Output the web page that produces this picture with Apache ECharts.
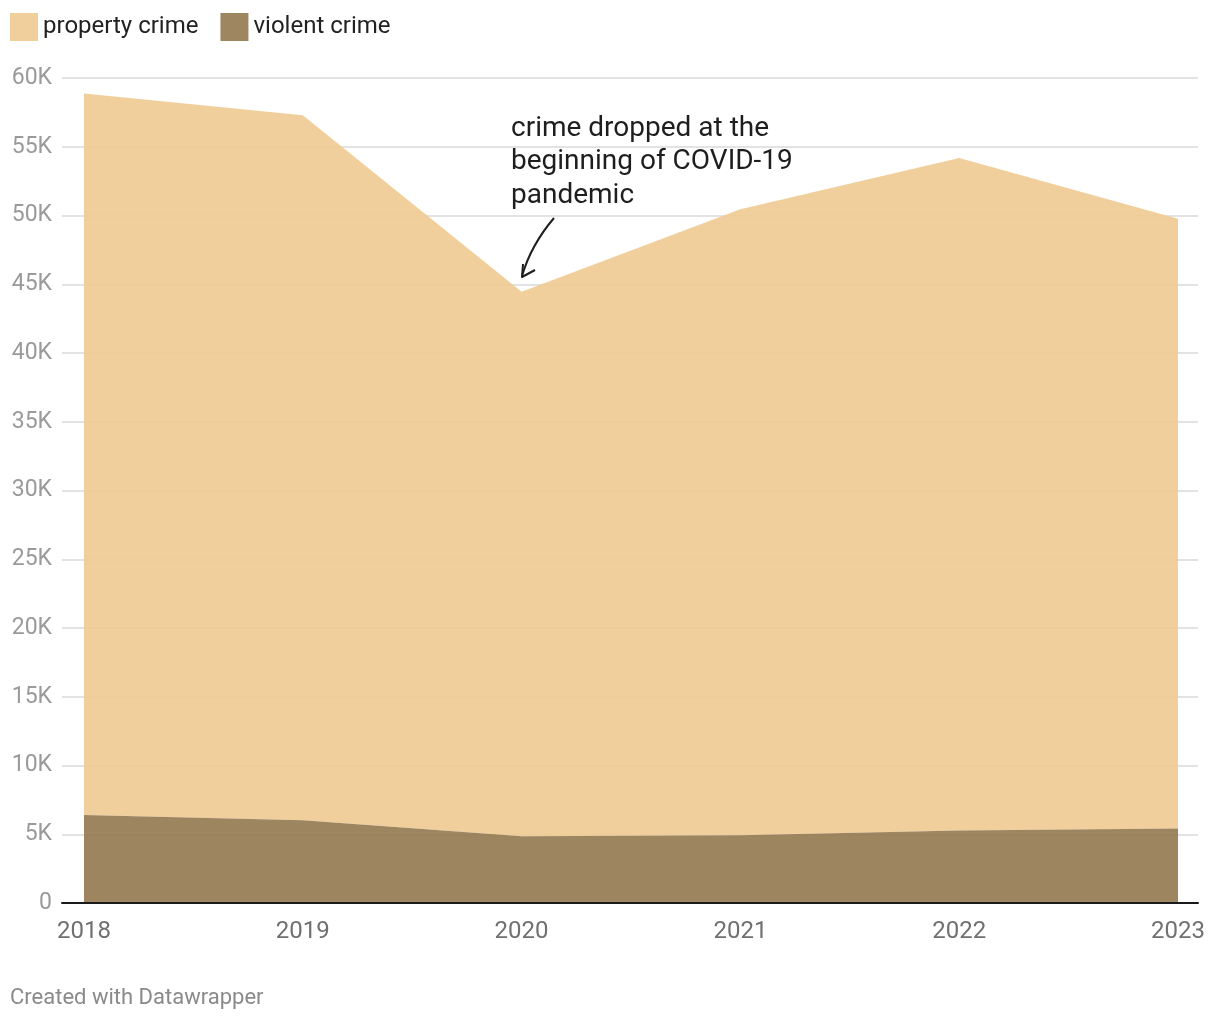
<!DOCTYPE html>
<html>
<head>
<meta charset="utf-8">
<script src="https://cdn.jsdelivr.net/npm/echarts@6/dist/echarts.min.js"></script>
<style>html,body{margin:0;padding:0;background:#fff;}#c{width:1220px;height:1020px;}</style>
</head>
<body>
<div id="c"></div>
<script>
const years = ['2018', '2019', '2020', '2021', '2022', '2023'];
const violentCrime = [6400, 6020, 4850, 4920, 5280, 5420];
const propertyCrime = [52470, 51280, 39600, 45540, 48900, 44340];
const yTicks = [0, 5000, 10000, 15000, 20000, 25000, 30000, 35000, 40000, 45000, 50000, 55000, 60000];
const annotationLines = ['crime dropped at the', 'beginning of COVID-19', 'pandemic'];

const FONT = 'Roboto, "Noto Sans", sans-serif';
const chart = echarts.init(document.getElementById('c'), null, {renderer: 'canvas'});

chart.setOption({
  animation: false,
  backgroundColor: '#ffffff',
  textStyle: {fontFamily: FONT},
  legend: {
    left: 10, top: 13, padding: 0,
    icon: 'rect', itemWidth: 28, itemHeight: 28, itemGap: 22,
    data: ['property crime', 'violent crime'],
    textStyle: {fontSize: 24, color: '#222', fontFamily: FONT}
  },
  grid: [
    {left: 62, right: 22, top: 78, bottom: 117, containLabel: false},
    {left: 84, right: 42, top: 78, bottom: 117, containLabel: false}
  ],
  xAxis: [
    {
      gridIndex: 0, type: 'value', min: 0, max: 1, z: 10,
      axisLine: {show: true, onZero: false, lineStyle: {color: '#1a1a1a', width: 2}},
      axisTick: {show: false}, splitLine: {show: false}, axisLabel: {show: false}
    },
    {
      gridIndex: 1, type: 'category', data: years, boundaryGap: false,
      axisLine: {show: false}, axisTick: {show: false}, splitLine: {show: false},
      axisLabel: {fontSize: 24, color: '#707070', margin: 17, fontFamily: FONT}
    }
  ],
  yAxis: [
    {
      gridIndex: 0, type: 'value', min: 0, max: 60000, interval: 5000,
      axisLine: {show: false}, axisTick: {show: false},
      splitLine: {show: true, lineStyle: {color: '#e3e3e3', width: 2}},
      axisLabel: {
        fontSize: 23, color: '#9a9a9a', margin: 10, fontFamily: FONT,
        formatter: v => v === 0 ? '0' : (v / 1000) + 'K'
      }
    },
    {
      gridIndex: 1, type: 'value', min: 0, max: 60000, interval: 5000,
      axisLine: {show: false}, axisTick: {show: false},
      splitLine: {show: false}, axisLabel: {show: false}
    }
  ],
  series: [
    {
      name: 'violent crime', type: 'line', stack: 'total',
      xAxisIndex: 1, yAxisIndex: 1,
      data: violentCrime,
      showSymbol: false, symbol: 'none',
      lineStyle: {width: 0},
      itemStyle: {color: '#9e8660'},
      areaStyle: {color: '#957b52', opacity: 0.92},
      z: 3
    },
    {
      name: 'property crime', type: 'line', stack: 'total',
      xAxisIndex: 1, yAxisIndex: 1,
      data: propertyCrime,
      showSymbol: false, symbol: 'none',
      lineStyle: {width: 0},
      itemStyle: {color: '#f0cf9c'},
      areaStyle: {color: '#eeca91', opacity: 0.9},
      z: 2
    }
  ],
  graphic: [
    {
      type: 'text', left: 511, top: 112,
      style: {
        text: annotationLines.join('\n'),
        font: '28px ' + FONT, fill: '#1e1e1e', lineHeight: 33.5
      }
    },
    {
      type: 'bezierCurve',
      shape: {x1: 554, y1: 218, x2: 522, y2: 276, cpx1: 531, cpy1: 245},
      style: {stroke: '#1e1e1e', lineWidth: 2, fill: null}
    },
    {
      type: 'polyline',
      shape: {points: [[523, 264], [522, 277], [535, 270]]},
      style: {stroke: '#1e1e1e', lineWidth: 2, fill: null, lineJoin: 'round'}
    },
    {
      type: 'text', left: 10, top: 987,
      style: {text: 'Created with Datawrapper', font: '22px ' + FONT, fill: '#8a8a8a'}
    }
  ]
});
</script>
</body>
</html>
